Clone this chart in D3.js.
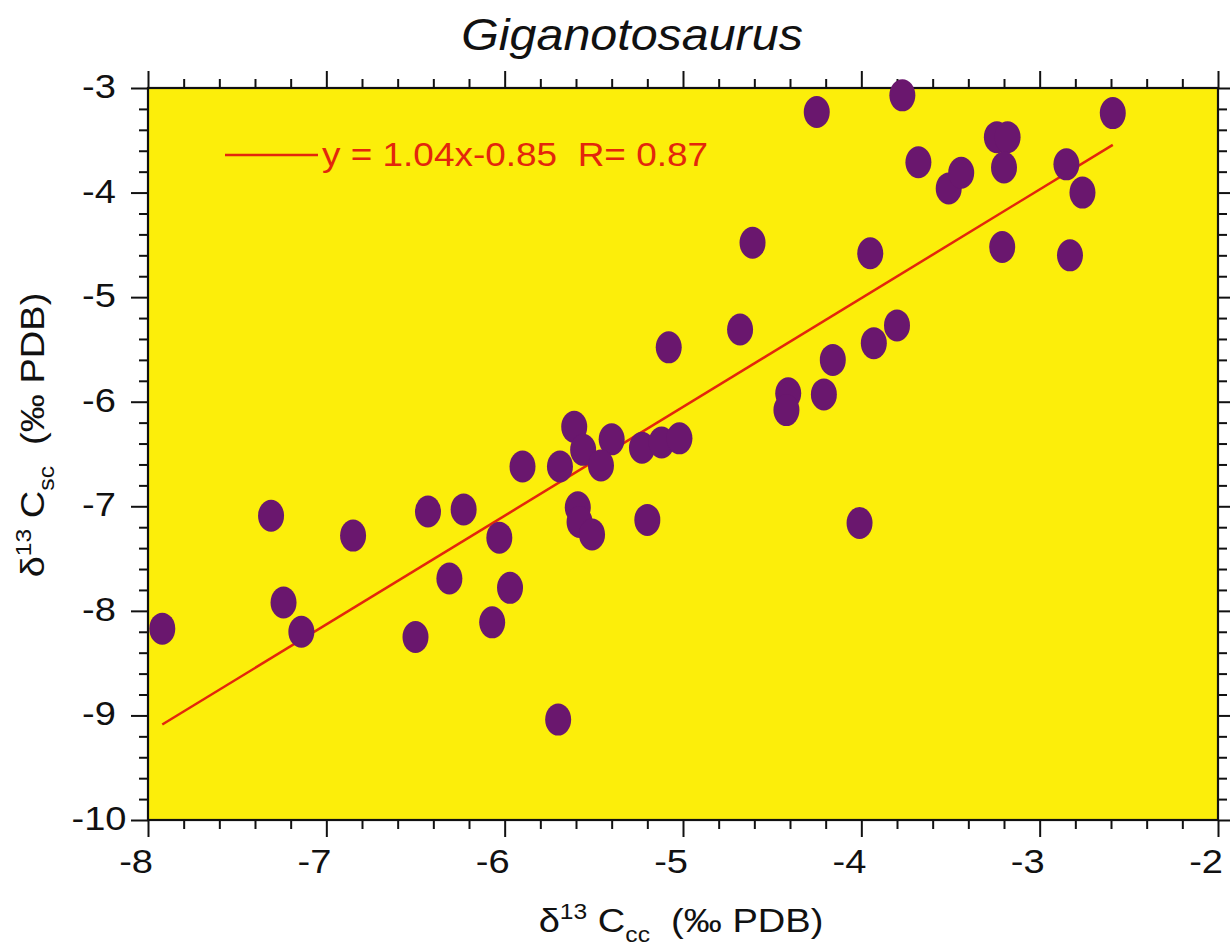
<!DOCTYPE html>
<html><head><meta charset="utf-8">
<script src="https://cdn.jsdelivr.net/npm/d3@7"></script>
<style>
body{margin:0;background:#fff;}
svg{display:block;}
text{font-family:"Liberation Sans",Arial,Helvetica,sans-serif;fill:#111;}
</style>
</head><body><svg id="c" width="1230" height="947"></svg>
<script>
const chartTitle = "Giganotosaurus";
const xTickValues = [-8, -7, -6, -5, -4, -3, -2];
const yTickValues = [-3, -4, -5, -6, -7, -8, -9, -10];
const d13Ccc = [-7.92,-7.31,-7.24,-7.14,-6.85,-6.43,-6.50,-6.23,-6.31,-6.03,-5.97,-6.07,-5.90,-5.70,-5.69,-5.61,-5.56,-5.40,-5.46,-5.59,-5.58,-5.51,-5.23,-5.12,-5.02,-5.20,-5.08,-4.68,-4.61,-4.25,-3.77,-3.68,-3.51,-3.44,-3.95,-3.80,-3.93,-4.16,-4.41,-4.42,-4.21,-4.01,-3.24,-3.18,-3.20,-2.85,-2.76,-2.59,-3.21,-2.83];
const d13Csc = [-8.17,-7.09,-7.92,-8.20,-7.28,-7.05,-8.25,-7.03,-7.69,-7.30,-7.78,-8.11,-6.62,-9.04,-6.62,-6.24,-6.46,-6.36,-6.61,-7.01,-7.15,-7.27,-6.44,-6.39,-6.35,-7.13,-5.48,-5.31,-4.48,-3.23,-3.07,-3.71,-3.96,-3.81,-4.58,-5.27,-5.44,-5.60,-5.92,-6.08,-5.93,-7.16,-3.47,-3.47,-3.76,-3.73,-4.00,-3.24,-4.52,-4.60];
const fitSlope = 1.04, fitIntercept = -0.85;
const legendLabel = "y = 1.04x-0.85  R= 0.87";

const svg = d3.select("#c");
const L = 148, R = 1218, T = 88, B = 820;
const SX = 1.12;
const x = d3.scaleLinear().domain([-8, -2]).range([L, R]);
const y = d3.scaleLinear().domain([-10, -3]).range([B, T]);

const yellow = "#fcee0a", purple = "#6a176e", red = "#e3260c";

svg.append("rect").attr("x", L).attr("y", T).attr("width", R - L).attr("height", B - T).attr("fill", yellow);

const minor = (lo, hi, major) => d3.range(Math.round(lo * 5), Math.round(hi * 5) + 1).map(v => v / 5).filter(v => !major.includes(v));
const xMinor = minor(-8, -2, xTickValues);
const yMinor = minor(-10, -3, yTickValues);

function addAxis(gen, tr, vals, size) {
  const g = svg.append("g").attr("transform", tr)
    .call(gen.tickValues(vals).tickSize(size).tickSizeOuter(0).tickFormat(""));
  g.select(".domain").remove();
  g.selectAll("line").attr("stroke", "#111").attr("stroke-width", 2);
}
addAxis(d3.axisBottom(x), `translate(0,${B})`, xTickValues, 17);
addAxis(d3.axisBottom(x), `translate(0,${B})`, xMinor, 9);
addAxis(d3.axisTop(x), `translate(0,${T})`, xTickValues, 17);
addAxis(d3.axisTop(x), `translate(0,${T})`, xMinor, 9);
addAxis(d3.axisLeft(y), `translate(${L},0)`, yTickValues, 17);
addAxis(d3.axisLeft(y), `translate(${L},0)`, yMinor, 9);
addAxis(d3.axisRight(y), `translate(${R},0)`, yTickValues, 17);
addAxis(d3.axisRight(y), `translate(${R},0)`, yMinor, 9);

// frame
svg.append("rect").attr("x", L).attr("y", T).attr("width", R - L).attr("height", B - T)
  .attr("fill", "none").attr("stroke", "#111").attr("stroke-width", 2.2);

// tick labels
svg.append("g").selectAll("text").data(xTickValues).join("text")
  .attr("transform", d => `translate(${x(d) + 5},873) scale(${SX},1)`)
  .attr("text-anchor", "end").attr("font-size", 34).text(d => String(d));
svg.append("g").selectAll("text").data(yTickValues).join("text")
  .attr("transform", d => `translate(99,${y(d) + 10}) scale(${SX},1)`)
  .attr("text-anchor", "middle").attr("font-size", 34).text(d => String(d));

// regression line
const xExt = d3.extent(d13Ccc);
svg.append("line")
  .attr("x1", x(xExt[0])).attr("y1", y(fitSlope * xExt[0] + fitIntercept))
  .attr("x2", x(xExt[1])).attr("y2", y(fitSlope * xExt[1] + fitIntercept))
  .attr("stroke", red).attr("stroke-width", 2.5);

// points
svg.append("g").selectAll("ellipse").data(d13Ccc.map((v, i) => [v, d13Csc[i]])).join("ellipse")
  .attr("cx", d => x(d[0])).attr("cy", d => y(d[1]))
  .attr("rx", 13).attr("ry", 16).attr("fill", purple);

// legend
svg.append("line").attr("x1", 225).attr("x2", 318).attr("y1", 155).attr("y2", 155)
  .attr("stroke", red).attr("stroke-width", 2.5);
svg.append("text").attr("transform", `translate(322,166) scale(${SX},1)`)
  .attr("font-size", 33).style("fill", red).style("white-space", "pre").text(legendLabel);

// title
svg.append("text").attr("transform", `translate(632,50) scale(1.1,1)`)
  .attr("text-anchor", "middle").attr("font-size", 44).attr("font-style", "italic")
  .text(chartTitle);

// axis titles
function axisTitle(tr, sub) {
  const t = svg.append("text").attr("transform", tr).attr("text-anchor", "middle")
    .attr("font-size", 34).style("white-space", "pre");
  t.append("tspan").text("δ");
  t.append("tspan").attr("font-size", 22).attr("dy", -13).text("13");
  t.append("tspan").attr("dy", 13).text(" C");
  t.append("tspan").attr("font-size", 22).attr("dy", 10).text(sub);
  t.append("tspan").attr("dy", -10).text("  (‰ PDB)");
}
axisTitle(`translate(681,932) scale(${SX},1)`, "cc");
axisTitle(`translate(44,435) rotate(-90) scale(${SX},1)`, "sc");
</script>
</body></html>
